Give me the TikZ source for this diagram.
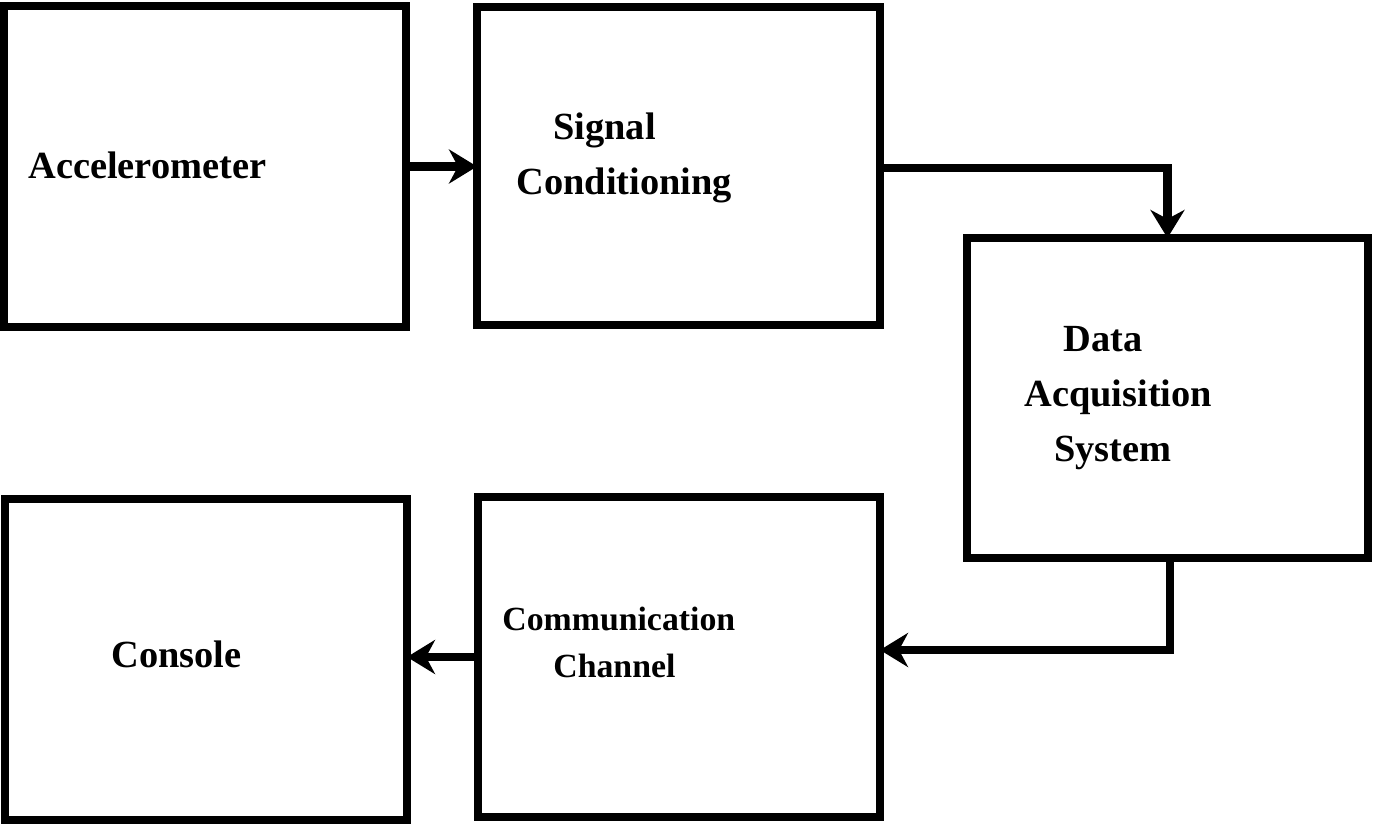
\documentclass[tikz,border=0pt]{standalone}
\usepackage{fontspec}
\setmainfont{Liberation Serif}
\usetikzlibrary{arrows.meta}
\tikzset{
  box/.style={draw, line width=4.2pt, rectangle, inner sep=0pt, outer sep=0pt},
  arr/.style={line width=4.2pt, -{Stealth[length=14pt, width=17pt, inset=4.5pt]}},
  lbl/.style={anchor=base west, inner sep=0pt, font=\fontsize{19.2pt}{23pt}\selectfont\bfseries},
  lbls/.style={anchor=base west, inner sep=0pt, font=\fontsize{16.9pt}{20pt}\selectfont\bfseries},
}
\begin{document}
\begin{tikzpicture}[x=0.5pt, y=-0.5pt]
\useasboundingbox (0,0) rectangle (1373,825);
\node[box, minimum width=201pt, minimum height=160.5pt] (acc) at (205,166.5) {};
\node[box, minimum width=201.5pt, minimum height=159pt] (sig) at (678.5,166) {};
\node[box, minimum width=200.5pt, minimum height=160pt] (daq) at (1167.5,398) {};
\node[box, minimum width=201pt, minimum height=160pt] (com) at (679,657) {};
\node[box, minimum width=201pt, minimum height=160.5pt] (con) at (206,659.5) {};
\node[lbl] (t1) at (28,178) {Accelerometer};
\node[lbl] (t2) at (553,139) {Signal};
\node[lbl] (t3) at (516,194) {Conditioning};
\node[lbl] (t4) at (1063,351) {Data};
\node[lbl] (t5) at (1024,406) {Acquisition};
\node[lbl] (t6) at (1054,461) {System};
\node[lbls] (t7) at (502,630) {Communication};
\node[lbls] (t8) at (553,677) {Channel};
\node[lbl] (t9) at (111,667) {Console};
\draw[arr] (acc.east) -- (acc.east -| sig.west);
\draw[arr] ([yshift=-1pt]sig.east) -| (daq.north);
\draw[arr] ([xshift=1.25pt]daq.south) |- ([yshift=3.5pt]com.east);
\draw[arr] (com.west) -- (com.west -| con.east);
\end{tikzpicture}
\end{document}
